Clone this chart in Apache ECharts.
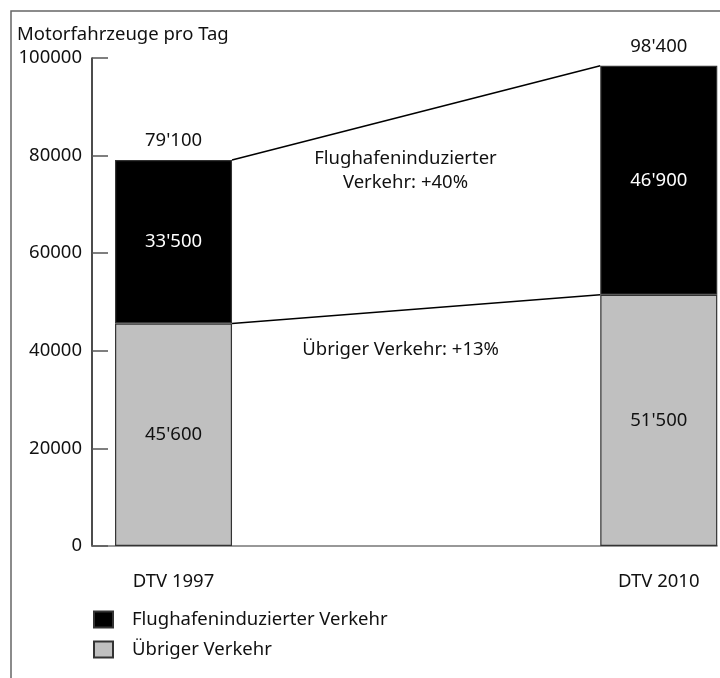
<!DOCTYPE html>
<html>
<head>
<meta charset="utf-8">
<script src="https://cdn.jsdelivr.net/npm/echarts@6/dist/echarts.min.js"></script>
<style>
  html, body { margin: 0; padding: 0; background: #fff; }
  #chart { width: 720px; height: 678px; }
</style>
</head>
<body>
<div id="chart"></div>
<script>
// Daily motor vehicle traffic, 1997 vs. 2010 forecast
const categories = ['DTV 1997', 'DTV 2010'];
const catPos = [0, 1];
const uebrigerVerkehr = [45600, 51500];
const flughafenVerkehr = [33500, 46900];
const seriesNames = ['Flughafeninduzierter Verkehr', 'Übriger Verkehr'];
const yTicks = { min: 0, max: 100000, interval: 20000 };
const notes = ['Flughafeninduzierter\nVerkehr: +40%', 'Übriger Verkehr: +13%'];

const FONT = 'Noto Sans';
const FS = 18.5;
const fmt = v => String(v).replace(/\B(?=(\d{3})+(?!\d))/g, "'");
const totals = uebrigerVerkehr.map((v, i) => v + flughafenVerkehr[i]);

// layout of the plot area
const gridLeft = 92, gridRight = 3, gridTop = 58, gridBottom = 132;
const xMin = -0.168, xMax = 1.12;
const barWidth = 117;
const pxPerUnit = (720 - gridLeft - gridRight) / (xMax - xMin);
const halfBar = (barWidth / 2) / pxPerUnit;

// bar rows are [value, position] so that the stack runs on the value dimension
const barRows = values => values.map((v, i) => [v, catPos[i]]);

const chart = echarts.init(document.getElementById('chart'), null, { renderer: 'canvas' });

chart.setOption({
  animation: false,
  backgroundColor: '#fff',
  textStyle: { fontFamily: FONT },
  title: {
    text: 'Motorfahrzeuge pro Tag',
    left: 12, top: 20,
    textStyle: { fontFamily: FONT, fontSize: FS, fontWeight: 'normal', color: '#111' }
  },
  grid: { left: gridLeft, right: gridRight, top: gridTop, bottom: gridBottom },
  legend: {
    orient: 'vertical',
    left: 88, top: 605,
    itemWidth: 19, itemHeight: 16, itemGap: 11,
    icon: 'rect',
    data: seriesNames,
    textStyle: { fontFamily: FONT, fontSize: FS, color: '#111', padding: [0, 0, 0, 14] },
    selectedMode: false
  },
  xAxis: {
    type: 'value',
    min: xMin, max: xMax,
    splitLine: { show: false },
    axisLine: { show: true, onZero: false, lineStyle: { color: '#777', width: 1.5 } },
    axisTick: { show: false },
    axisLabel: {
      customValues: catPos,
      formatter: v => categories[Math.round(v)] || '',
      margin: 26,
      fontFamily: FONT, fontSize: FS, color: '#111'
    }
  },
  yAxis: {
    type: 'value',
    min: yTicks.min, max: yTicks.max, interval: yTicks.interval,
    splitLine: { show: false },
    axisLine: { show: true, onZero: false, lineStyle: { color: '#111', width: 1.5 } },
    axisTick: { show: true, inside: true, length: 16, lineStyle: { color: '#555', width: 1.5 } },
    axisLabel: {
      formatter: v => String(v),
      margin: 10,
      fontFamily: FONT, fontSize: FS, color: '#111'
    }
  },
  graphic: [
    {
      type: 'polyline',
      shape: { points: [[11, 678], [11, 11], [720, 11]] },
      style: { stroke: '#666', lineWidth: 1.5, fill: null },
      silent: true
    }
  ],
  series: [
    {
      name: seriesNames[1],
      type: 'bar',
      stack: 'dtv',
      barWidth: barWidth,
      clip: false,
      encode: { x: 1, y: 0 },
      data: barRows(uebrigerVerkehr),
      itemStyle: { color: '#c0c0c0', borderColor: '#333', borderWidth: 1.2 },
      label: {
        show: true, position: 'inside',
        formatter: p => fmt(p.value[0]),
        fontFamily: FONT, fontSize: FS, color: '#111'
      }
    },
    {
      name: seriesNames[0],
      type: 'bar',
      stack: 'dtv',
      barWidth: barWidth,
      clip: false,
      encode: { x: 1, y: 0 },
      data: barRows(flughafenVerkehr),
      itemStyle: { color: '#000', borderColor: '#333', borderWidth: 1.2 },
      label: {
        show: true, position: 'inside',
        formatter: p => fmt(p.value[0]),
        fontFamily: FONT, fontSize: FS, color: '#fff'
      }
    },
    {
      // totals above each bar
      type: 'scatter',
      symbolSize: 0,
      silent: true,
      itemStyle: { opacity: 1 },
      data: catPos.map((x, i) => [x, totals[i]]),
      label: {
        show: true, position: 'top', distance: 10,
        formatter: p => fmt(p.value[1]),
        fontFamily: FONT, fontSize: FS, color: '#111'
      }
    },
    {
      // link between the bar tops
      type: 'line',
      symbol: 'none',
      silent: true,
      data: [[catPos[0] + halfBar, totals[0]], [catPos[1] - halfBar, totals[1]]],
      lineStyle: { color: '#000', width: 1.5 },
      markPoint: {
        symbol: 'circle', symbolSize: 0,
        label: {
          show: true, position: 'inside',
          fontFamily: FONT, fontSize: FS, color: '#111', lineHeight: 24, align: 'center'
        },
        data: [{ coord: [0.478, 77000], value: notes[0], label: { formatter: notes[0] } }]
      }
    },
    {
      // link between the lower segments
      type: 'line',
      symbol: 'none',
      silent: true,
      data: [[catPos[0] + halfBar, uebrigerVerkehr[0]], [catPos[1] - halfBar, uebrigerVerkehr[1]]],
      lineStyle: { color: '#000', width: 1.5 },
      markPoint: {
        symbol: 'circle', symbolSize: 0,
        label: {
          show: true, position: 'inside',
          fontFamily: FONT, fontSize: FS, color: '#111', align: 'center'
        },
        data: [{ coord: [0.468, 40300], value: notes[1], label: { formatter: notes[1] } }]
      }
    }
  ]
});
</script>
</body>
</html>
